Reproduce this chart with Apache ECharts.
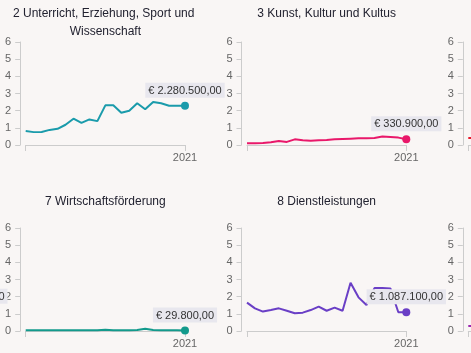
<!DOCTYPE html>
<html>
<head>
<meta charset="utf-8">
<script src="https://cdn.jsdelivr.net/npm/echarts@6/dist/echarts.min.js"></script>
<style>
html,body{margin:0;padding:0;background:#f9f6f5;}
#c{width:471px;height:353px;}
</style>
</head>
<body>
<div id="c"></div>
<script>
// Years on the x axis
const years = ['2001','2002','2003','2004','2005','2006','2007','2008','2009','2010','2011','2012','2013','2014','2015','2016','2017','2018','2019','2020','2021'];
// Values in million euro
const unterricht = [0.82,0.75,0.76,0.88,0.94,1.18,1.53,1.29,1.49,1.39,2.31,2.31,1.88,2.0,2.43,2.08,2.51,2.43,2.29,2.29,2.2805];
const kunst = [0.1,0.1,0.12,0.16,0.23,0.18,0.33,0.27,0.25,0.27,0.29,0.33,0.35,0.37,0.39,0.39,0.41,0.49,0.47,0.43,0.3309];
const wirtschaft = [0.05,0.05,0.04,0.04,0.04,0.04,0.04,0.04,0.04,0.05,0.07,0.05,0.05,0.05,0.06,0.13,0.06,0.05,0.05,0.04,0.0298];
const dienstleistungen = [1.65,1.32,1.13,1.22,1.32,1.18,1.03,1.07,1.22,1.42,1.18,1.36,1.18,2.81,1.96,1.51,2.5,2.5,2.48,1.09,1.0871];
// partially visible neighbouring panels (only visible parts read)
const strassenbau = [null,null,null,null,null,null,null,null,null,null,null,null,null,null,null,null,null,null,null,null,1.1213];
const sozialesStart = [0.41,0.4];
const finanzStart = [0.29,0.3];
const yTicks = [0,1,2,3,4,5,6];

const panels = [
  {title:'', data: null, color:'#1a9bab', row:0, col:0},
  {title:'2 Unterricht, Erziehung, Sport und Wissenschaft', data: unterricht, color:'#1a9bab', row:0, col:1},
  {title:'3 Kunst, Kultur und Kultus', data: kunst, color:'#e9186a', row:0, col:2},
  {title:'', data: sozialesStart, color:'#e8192c', row:0, col:3},
  {title:'', data: strassenbau, color:'#1a9bab', row:1, col:0},
  {title:'7 Wirtschaftsförderung', data: wirtschaft, color:'#139a8c', row:1, col:1},
  {title:'8 Dienstleistungen', data: dienstleistungen, color:'#6a3fc6', row:1, col:2},
  {title:'', data: finanzStart, color:'#9c27b0', row:1, col:3}
];

const colLeft = [-191.5, 25.7, 247, 468.3];
const gridW = 159.3;
const rowTop = [42, 228];
const gridH = 103;
const titleTop = [5, 193];
const FONT = '"Liberation Sans", Arial, sans-serif';

function fmtEuro(v){
  const n = Math.round(v*1e6);
  return '€ ' + String(n).replace(/\B(?=(\d{3})+(?!\d))/g, '.') + ',00';
}

const grid=[], xAxis=[], yAxis=[], series=[], title=[];
panels.forEach((p,i)=>{
  grid.push({left: colLeft[p.col], top: rowTop[p.row], width: gridW, height: gridH, containLabel:false, outerBoundsMode:'none'});
  xAxis.push({
    gridIndex:i, type:'category', data:years, boundaryGap:false,
    axisLine:{show:true, lineStyle:{color:'#cccccc', width:1}},
    axisTick:{show:true, length:6, lineStyle:{color:'#cccccc'}, interval:(idx)=> idx===0 || idx===years.length-1, alignWithLabel:true},
    axisLabel:{show:true, interval:(idx)=> idx===years.length-1, color:'#666666', fontSize:11, fontFamily:FONT, margin:7},
    splitLine:{show:false}
  });
  yAxis.push({
    gridIndex:i, type:'value', min:yTicks[0], max:yTicks[yTicks.length-1], interval:1, offset:5.5,
    axisLine:{show:true, lineStyle:{color:'#cccccc'}},
    axisTick:{show:true, length:5, lineStyle:{color:'#cccccc'}},
    axisLabel:{color:'#666666', fontSize:11, fontFamily:FONT, margin:9},
    splitLine:{show:false}
  });
  if (p.title){
    title.push({
      text:p.title, left: colLeft[p.col] + gridW/2, top: titleTop[p.row], textAlign:'center', padding:0,
      textStyle:{color:'#222230', fontSize:12, fontWeight:'normal', fontFamily:FONT, width:190, overflow:'break', lineHeight:18}
    });
  }
  if (p.data){
    const last = p.data.length-1;
    const isFull = p.data.length === years.length;
    const d = p.data.map((v,idx)=>{
      if (isFull && idx===last){
        return {value:v, symbol:'circle', symbolSize:8,
          label:{show:true, position:'top', distance:4, formatter:(pr)=>fmtEuro(pr.value),
            color:'#333333', fontSize:11, fontFamily:FONT, backgroundColor:'#e8e7ee', padding:[2,3,1,3], lineHeight:12}};
      }
      return {value: v===null ? '-' : v};
    });
    series.push({
      type:'line', xAxisIndex:i, yAxisIndex:i, data:d, color:p.color,
      lineStyle:{width:2, color:p.color}, itemStyle:{color:p.color},
      showSymbol:true, symbol:'none', connectNulls:false, silent:true, animation:false,
      label:{show:false}, z:3
    });
  }
});

const chart = echarts.init(document.getElementById('c'), null, {renderer:'canvas'});
chart.setOption({
  backgroundColor:'#f9f6f5',
  animation:false,
  title, grid, xAxis, yAxis, series
});
</script>
</body>
</html>
